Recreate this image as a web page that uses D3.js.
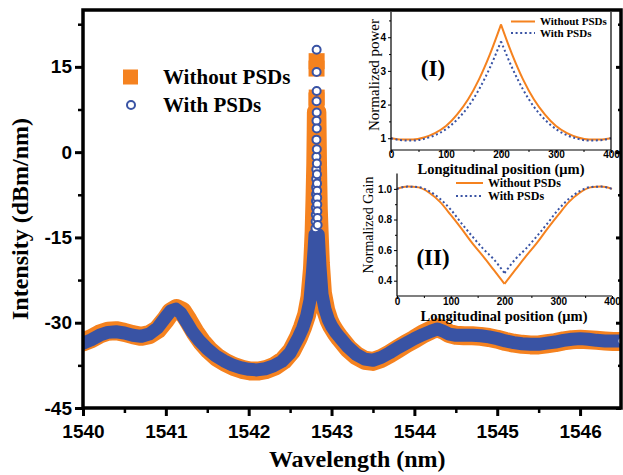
<!DOCTYPE html>
<html>
<head>
<meta charset="utf-8">
<script src="https://cdn.jsdelivr.net/npm/d3@7"></script>
<style>
  html, body { margin: 0; padding: 0; background: #fff; }
  svg { display: block; }
</style>
</head>
<body>
<svg id="chart" width="623" height="475"></svg>
<script>
// ---------- Output spectrum: wavelength (nm) / intensity (dBm/nm) ----------
const withoutWavelength = [
  1540.00, 1540.10, 1540.20, 1540.30, 1540.40, 1540.50, 1540.60, 1540.70, 1540.80, 1540.90,
  1541.00, 1541.06, 1541.13, 1541.20, 1541.27, 1541.35, 1541.43, 1541.52, 1541.62, 1541.72,
  1541.82, 1541.92, 1542.02, 1542.12, 1542.22, 1542.32, 1542.42, 1542.52, 1542.60, 1542.65,
  1542.70, 1542.74, 1542.77, 1542.79, 1542.80, 1542.81, 1542.815, 1542.817, 1542.818, 1542.819,
  1542.820, 1542.821, 1542.823, 1542.826, 1542.83, 1542.835, 1542.84, 1542.85, 1542.865, 1542.89,
  1542.93, 1542.97, 1543.00, 1543.05, 1543.10, 1543.20, 1543.30, 1543.40, 1543.50, 1543.60,
  1543.70, 1543.80, 1543.90, 1544.00, 1544.10, 1544.20, 1544.28, 1544.35, 1544.42, 1544.50,
  1544.60, 1544.70, 1544.80, 1544.90, 1545.00, 1545.10, 1545.20, 1545.30, 1545.40, 1545.50,
  1545.60, 1545.70, 1545.80, 1545.90, 1546.00, 1546.10, 1546.20, 1546.30, 1546.40, 1546.50
];
const withoutIntensity = [
  -33.4, -32.8, -32.0, -31.5, -31.4, -31.7, -32.1, -32.4, -32.1, -31.2,
  -29.4, -28.1, -27.5, -28.0, -29.6, -31.6, -33.3, -34.8, -36.1, -37.0,
  -37.7, -38.2, -38.5, -38.5, -38.2, -37.6, -36.6, -34.9, -32.6, -30.8,
  -28.6, -25.5, -20.5, -14.0, -8.5, -2.0, 4.0, 7.0, 9.1, 14.7,
  16.0, 9.6, 7.0, 3.5, -1.5, -6.0, -10.0, -14.0, -19.5, -24.8,
  -27.8, -29.6, -30.5, -31.7, -32.7, -34.5, -35.8, -36.6, -36.8, -36.3,
  -35.5, -34.6, -33.7, -32.9, -32.0, -31.3, -30.9, -31.3, -31.9, -32.2,
  -32.3, -32.3, -32.4, -32.6, -32.9, -33.3, -33.6, -33.8, -33.9, -33.9,
  -33.7, -33.5, -33.2, -33.0, -32.9, -33.0, -33.1, -33.2, -33.3, -33.3
];

const withWavelength = [
  1540.00, 1540.10, 1540.20, 1540.30, 1540.40, 1540.50, 1540.60, 1540.70, 1540.80, 1540.90,
  1541.00, 1541.06, 1541.12, 1541.18, 1541.25, 1541.32, 1541.40, 1541.50, 1541.60, 1541.70,
  1541.80, 1541.90, 1542.00, 1542.10, 1542.20, 1542.30, 1542.40, 1542.50, 1542.60, 1542.65,
  1542.70, 1542.74, 1542.77, 1542.79, 1542.80,
  1542.806, 1542.808, 1542.810, 1542.811, 1542.812, 1542.813, 1542.814, 1542.815, 1542.816, 1542.817,
  1542.818, 1542.8185, 1542.819, 1542.8195, 1542.820, 1542.8205, 1542.821, 1542.8215, 1542.822, 1542.823,
  1542.824, 1542.825, 1542.826, 1542.827, 1542.828, 1542.829, 1542.830, 1542.832,
  1542.84, 1542.86, 1542.885, 1542.92, 1542.96, 1543.00, 1543.05, 1543.10, 1543.20, 1543.30,
  1543.40, 1543.50, 1543.60, 1543.70, 1543.80, 1543.90, 1544.00, 1544.10, 1544.20, 1544.28,
  1544.35, 1544.42, 1544.50, 1544.60, 1544.70, 1544.80, 1544.90, 1545.00, 1545.10, 1545.20,
  1545.30, 1545.40, 1545.50, 1545.60, 1545.70, 1545.80, 1545.90, 1546.00, 1546.10, 1546.20,
  1546.30, 1546.40, 1546.50
];
const withIntensity = [
  -33.6, -33.0, -32.2, -31.7, -31.6, -31.8, -32.2, -32.4, -32.0, -30.9,
  -29.0, -27.9, -27.6, -28.3, -29.9, -31.6, -33.1, -34.6, -35.8, -36.7,
  -37.4, -37.9, -38.2, -38.3, -38.1, -37.6, -36.8, -35.3, -32.6, -31.0,
  -28.8, -26.0, -21.0, -17.0, -14.5,
  -13.4, -12.2, -11.0, -9.8, -8.6, -7.4, -6.2, -4.7, -3.0, -0.8,
  2.2, 5.5, 8.95, 14.1, 18.0, 10.75, 6.96, 4.16, 0.5, -2.0,
  -3.9, -5.5, -6.8, -8.0, -9.2, -10.4, -11.6, -12.8,
  -14.5, -20.0, -25.0, -27.6, -29.4, -30.6, -31.7, -32.6, -34.3, -35.6,
  -36.4, -36.6, -36.1, -35.3, -34.4, -33.6, -32.8, -32.1, -31.5, -31.1,
  -31.5, -32.0, -32.2, -32.2, -32.2, -32.3, -32.5, -32.8, -33.2, -33.5,
  -33.7, -33.8, -33.8, -33.6, -33.4, -33.1, -32.9, -32.8, -32.9, -33.1,
  -33.2, -33.2, -33.2
];

const seriesNames = ["Without PSDs", "With PSDs"];
const mainXTicks = [1540, 1541, 1542, 1543, 1544, 1545, 1546];
const mainXMinor = [1540.5, 1541.5, 1542.5, 1543.5, 1544.5, 1545.5];
const mainYTicks = [-45, -30, -15, 0, 15];
const mainYMinor = [-37.5, -22.5, -7.5, 7.5, 22.5];

// ---------- Inset (I) / (II): profiles along the cavity (µm) ----------
const insetPosition = [0, 20, 40, 60, 80, 100, 120, 140, 160, 180, 200,
                       220, 240, 260, 280, 300, 320, 340, 360, 380, 400];
const powerWithout = [1.00, 0.96, 0.96, 1.02, 1.15, 1.36, 1.70, 2.15, 2.75, 3.50, 4.38,
                      3.50, 2.75, 2.15, 1.70, 1.36, 1.15, 1.02, 0.96, 0.96, 1.00];
const powerWith    = [1.00, 0.94, 0.93, 0.98, 1.09, 1.27, 1.55, 1.93, 2.45, 3.10, 3.88,
                      3.10, 2.45, 1.93, 1.55, 1.27, 1.09, 0.98, 0.93, 0.94, 1.00];
const gainWithout  = [1.000, 1.015, 1.010, 0.975, 0.915, 0.830, 0.740, 0.645, 0.560, 0.470, 0.380,
                      0.470, 0.560, 0.645, 0.740, 0.830, 0.915, 0.975, 1.010, 1.015, 1.000];
const gainWith     = [1.000, 1.015, 1.012, 0.985, 0.935, 0.865, 0.775, 0.690, 0.610, 0.540, 0.450,
                      0.540, 0.610, 0.690, 0.775, 0.865, 0.935, 0.985, 1.012, 1.015, 1.000];
const insetXTicks = [0, 100, 200, 300, 400];
const insetXMinor = [50, 150, 250, 350];
const powerTicks = [1, 2, 3, 4];
const powerMinor = [1.5, 2.5, 3.5, 4.5];
const gainTicks = [0.4, 0.6, 0.8, 1.0];
const gainMinor = [0.5, 0.7, 0.9];

// ---------- Setup ----------
const W = 623, H = 475;
const ORANGE = "#F5821F", BLUE = "#3953A4";
const SANS = "'Liberation Sans', Arial, sans-serif";
const SERIF = "'Liberation Serif', 'Times New Roman', serif";

const svg = d3.select("#chart");
svg.append("rect").attr("width", W).attr("height", H).attr("fill", "#fff");

const plot = { left: 83, right: 621.5, top: 10, bottom: 408 };
const x = d3.scaleLinear().domain([1540, 1546.5]).range([plot.left, plot.right]);
const y = d3.scaleLinear().domain([-45, 25]).range([plot.bottom, plot.top]);

svg.append("defs").append("clipPath").attr("id", "plotClip")
  .append("rect")
  .attr("x", plot.left).attr("y", plot.top)
  .attr("width", plot.right - plot.left).attr("height", plot.bottom - plot.top);

const dataG = svg.append("g").attr("clip-path", "url(#plotClip)");

// A densely sampled series renders as a solid band of overlapping markers;
// only the samples on the steep lasing peak stand apart as single markers.
function drawSeries(wl, val, opt) {
  const pts = wl.map((w, i) => ({ w, v: val[i] }));
  const g = dataG.append("g");
  g.append("path")
    .datum(pts)
    .attr("d", d3.line().defined(d => d.v <= opt.bandLimit).x(d => x(d.w)).y(d => y(d.v)))
    .attr("fill", "none")
    .attr("stroke", opt.color)
    .attr("stroke-width", opt.band)
    .attr("stroke-linejoin", "round")
    .attr("stroke-linecap", "round");
  const single = pts.filter((d, i) => d.v > opt.bandLimit || i === pts.length - 1);
  if (opt.shape === "square") {
    g.selectAll("rect.m").data(single).join("rect")
      .attr("class", "m")
      .attr("x", d => x(d.w) - 8).attr("y", d => y(d.v) - 8)
      .attr("width", 16).attr("height", 16)
      .attr("fill", opt.color);
  } else {
    g.selectAll("circle.m").data(single).join("circle")
      .attr("class", "m")
      .attr("cx", d => x(d.w)).attr("cy", d => y(d.v)).attr("r", 4)
      .attr("fill", "#fff").attr("stroke", opt.color).attr("stroke-width", 2);
  }
}

drawSeries(withoutWavelength, withoutIntensity, { color: ORANGE, band: 19, bandLimit: 7.5, shape: "square" });
drawSeries(withWavelength, withIntensity, { color: BLUE, band: 13, bandLimit: -14, shape: "circle" });

// ---------- Legend ----------
const legend = svg.append("g");
legend.append("rect").attr("x", 123).attr("y", 69.5).attr("width", 15).attr("height", 15).attr("fill", ORANGE);
legend.append("circle").attr("cx", 131).attr("cy", 105).attr("r", 4)
  .attr("fill", "#fff").attr("stroke", BLUE).attr("stroke-width", 2);
legend.selectAll("text").data(seriesNames).join("text")
  .attr("x", 163).attr("y", (d, i) => i === 0 ? 84 : 112)
  .style("font-family", SERIF).style("font-weight", "bold").style("font-size", "21px")
  .attr("fill", "#000")
  .text(d => d);

// ---------- Insets ----------
function styleInsetAxis(g) {
  g.select(".domain").remove();
  g.selectAll(".tick line").attr("stroke", "#000").attr("stroke-width", 1);
  g.selectAll(".tick text")
    .style("font-family", SANS).style("font-weight", "bold").style("font-size", "10px")
    .attr("fill", "#000");
}

function drawProfile(g, sx, sy, values, color, dotted) {
  const peak = 10; // split at the cavity centre so the cusp stays sharp
  const pts = insetPosition.map((p, i) => ({ p, v: values[i] }));
  const line = d3.line().x(d => sx(d.p)).y(d => sy(d.v)).curve(d3.curveMonotoneX);
  [pts.slice(0, peak + 1), pts.slice(peak)].forEach(seg => {
    const path = g.append("path").datum(seg).attr("d", line)
      .attr("fill", "none").attr("stroke", color).attr("stroke-width", 2);
    if (dotted) path.attr("stroke-dasharray", "2,2.6");
  });
}

function insetLegend(g, x0, x1, y0, dy, fontSize) {
  seriesNames.forEach((name, i) => {
    const yy = y0 + i * dy;
    const l = g.append("line").attr("x1", x0).attr("x2", x1).attr("y1", yy).attr("y2", yy)
      .attr("stroke", i === 0 ? ORANGE : BLUE).attr("stroke-width", 2);
    if (i === 1) l.attr("stroke-dasharray", "2,2.6");
    g.append("text").attr("x", x1 + 5).attr("y", yy).attr("dy", "0.35em")
      .style("font-family", SERIF).style("font-weight", "bold").style("font-size", fontSize + "px")
      .attr("fill", "#000").text(name);
  });
}

// Inset (I): normalized power
const insetI = svg.append("g");
const xI = d3.scaleLinear().domain([0, 400]).range([391, 611]);
const yI = d3.scaleLinear().domain([0.65, 4.75]).range([150, 12]);
insetI.append("rect").attr("x", 391).attr("y", 12).attr("width", 220).attr("height", 138).attr("fill", "#fff");
drawProfile(insetI, xI, yI, powerWithout, ORANGE, false);
drawProfile(insetI, xI, yI, powerWith, BLUE, true);
insetI.append("path").attr("d", "M391,12V150H611V12").attr("fill", "none").attr("stroke", "#000").attr("stroke-width", 1.2);
insetI.append("g").attr("transform", "translate(391,0)")
  .call(d3.axisLeft(yI).tickValues(powerTicks).tickSize(3).tickPadding(2).tickFormat(d => String(d)))
  .call(styleInsetAxis);
insetI.append("g").attr("transform", "translate(391,0)")
  .call(d3.axisLeft(yI).tickValues(powerMinor).tickSize(2).tickFormat(""))
  .call(styleInsetAxis);
insetI.append("g").attr("transform", "translate(0,150)")
  .call(d3.axisBottom(xI).tickValues(insetXTicks).tickSize(3).tickPadding(-2).tickFormat(d => String(d)))
  .call(styleInsetAxis);
insetI.append("g").attr("transform", "translate(0,150)")
  .call(d3.axisBottom(xI).tickValues(insetXMinor).tickSize(2).tickFormat(""))
  .call(styleInsetAxis);
insetI.append("text").attr("x", 501).attr("y", 173.5).attr("text-anchor", "middle")
  .style("font-family", SERIF).style("font-weight", "bold").style("font-size", "14.5px")
  .text("Longitudinal position (\u03bcm)");
insetI.append("text").attr("transform", "translate(379,75) rotate(-90)").attr("text-anchor", "middle")
  .style("font-family", SERIF).style("font-size", "15px")
  .text("Normalized power");
insetI.append("text").attr("x", 433).attr("y", 76).attr("text-anchor", "middle")
  .style("font-family", SERIF).style("font-weight", "bold").style("font-size", "23px")
  .text("(I)");
insetLegend(insetI, 511, 535, 21.5, 11.5, 11);

// Inset (II): normalized gain
const insetII = svg.append("g");
const xII = d3.scaleLinear().domain([0, 400]).range([397, 612]);
const yII = d3.scaleLinear().domain([0.3, 1.1]).range([296, 173.6]);
drawProfile(insetII, xII, yII, gainWithout, ORANGE, false);
drawProfile(insetII, xII, yII, gainWith, BLUE, true);
insetII.append("path").attr("d", "M397,173.6V296H612").attr("fill", "none").attr("stroke", "#000").attr("stroke-width", 1.2);
insetII.append("g").attr("transform", "translate(397,0)")
  .call(d3.axisLeft(yII).tickValues(gainTicks).tickSize(3).tickPadding(2).tickFormat(d3.format(".1f")))
  .call(styleInsetAxis);
insetII.append("g").attr("transform", "translate(397,0)")
  .call(d3.axisLeft(yII).tickValues(gainMinor).tickSize(2).tickFormat(""))
  .call(styleInsetAxis);
insetII.append("g").attr("transform", "translate(0,296)")
  .call(d3.axisBottom(xII).tickValues(insetXTicks).tickSize(3).tickPadding(-1).tickFormat(d => String(d)))
  .call(styleInsetAxis);
insetII.append("g").attr("transform", "translate(0,296)")
  .call(d3.axisBottom(xII).tickValues(insetXMinor).tickSize(2).tickFormat(""))
  .call(styleInsetAxis);
insetII.append("text").attr("x", 504).attr("y", 321).attr("text-anchor", "middle")
  .style("font-family", SERIF).style("font-weight", "bold").style("font-size", "14.5px")
  .text("Longitudinal position (\u03bcm)");
insetII.append("text").attr("transform", "translate(373,225) rotate(-90)").attr("text-anchor", "middle")
  .style("font-family", SERIF).style("font-size", "14px")
  .text("Normalized Gain");
insetII.append("text").attr("x", 433).attr("y", 265).attr("text-anchor", "middle")
  .style("font-family", SERIF).style("font-weight", "bold").style("font-size", "23px")
  .text("(II)");
insetLegend(insetII, 456, 483, 183, 13, 12);

// ---------- Main axes and frame ----------
function styleMainAxis(g, width) {
  g.select(".domain").remove();
  g.selectAll(".tick line").attr("stroke", "#000").attr("stroke-width", width);
  g.selectAll(".tick text")
    .style("font-family", SANS).style("font-weight", "bold").style("font-size", "19px")
    .attr("fill", "#000");
}

svg.append("g").attr("transform", `translate(${plot.left},0)`)
  .call(d3.axisLeft(y).tickValues(mainYTicks).tickSize(8).tickPadding(3).tickFormat(d => String(d)))
  .call(g => styleMainAxis(g, 3));
svg.append("g").attr("transform", `translate(${plot.left},0)`)
  .call(d3.axisLeft(y).tickValues(mainYMinor).tickSize(5).tickFormat(""))
  .call(g => styleMainAxis(g, 2.5));
svg.append("g").attr("transform", `translate(0,${plot.bottom})`)
  .call(d3.axisBottom(x).tickValues(mainXTicks).tickSize(8).tickPadding(9).tickFormat(d => String(d)))
  .call(g => styleMainAxis(g, 3));
svg.append("g").attr("transform", `translate(0,${plot.bottom})`)
  .call(d3.axisBottom(x).tickValues(mainXMinor).tickSize(5).tickFormat(""))
  .call(g => styleMainAxis(g, 2.5));
// mirrored inward ticks on the right edge
svg.append("g").attr("transform", `translate(${plot.right - 0.5},0)`)
  .call(d3.axisLeft(y).tickValues(mainYTicks).tickSize(5).tickFormat(""))
  .call(g => styleMainAxis(g, 3));
svg.append("g").attr("transform", `translate(${plot.right - 0.5},0)`)
  .call(d3.axisLeft(y).tickValues(mainYMinor).tickSize(3).tickFormat(""))
  .call(g => styleMainAxis(g, 2.5));

svg.append("path")
  .attr("d", `M${plot.left},${plot.bottom}V${plot.top}H${plot.right - 0.5}V${plot.bottom}Z`)
  .attr("fill", "none").attr("stroke", "#000").attr("stroke-width", 3.5);

svg.append("text")
  .attr("x", (plot.left + plot.right) / 2 + 5).attr("y", 467).attr("text-anchor", "middle")
  .style("font-family", SERIF).style("font-weight", "bold").style("font-size", "24px")
  .text("Wavelength (nm)");
svg.append("text")
  .attr("transform", "translate(28,219) rotate(-90)").attr("text-anchor", "middle")
  .style("font-family", SERIF).style("font-weight", "bold").style("font-size", "24px")
  .text("Intensity (dBm/nm)");
</script>
</body>
</html>
